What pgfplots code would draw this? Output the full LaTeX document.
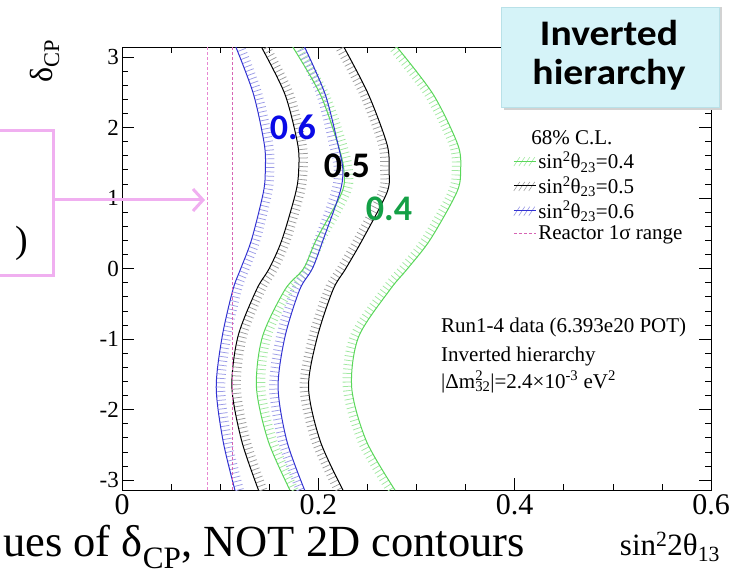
\documentclass[border=0pt]{standalone}
\usepackage{pgfplots}
\pgfplotsset{compat=1.18}
\usepackage{pgfplotstable}
\usepackage{fontspec}
\setmainfont{Liberation Serif}
\newfontfamily\carlito{Carlito}
\usetikzlibrary{arrows.meta}
\definecolor{curvegreen}{RGB}{90,215,90}
\definecolor{hatchgreen}{RGB}{160,232,160}
\definecolor{hatchblack}{RGB}{155,155,155}
\definecolor{curveblue}{RGB}{50,50,210}
\definecolor{hatchblue}{RGB}{155,155,230}
\definecolor{reactor}{RGB}{215,100,180}
\definecolor{reactorlight}{RGB}{232,135,210}
\definecolor{pinkann}{RGB}{240,175,240}
\definecolor{labgreen}{RGB}{20,160,70}
\definecolor{labblue}{RGB}{10,10,230}
\definecolor{boxcyan}{RGB}{213,243,248}

\pgfplotstableread{
d bl kl gl br kr gr
-3.1416 0.115 0.139 0.171 0.186 0.225 0.278
-2.45 0.103 0.122 0.149 0.168 0.202 0.249
-1.69 0.096 0.112 0.137 0.159 0.190 0.234
-0.97 0.102 0.118 0.143 0.166 0.199 0.241
-0.30 0.113 0.137 0.166 0.181 0.215 0.273
0.00 0.121 0.150 0.185 0.194 0.228 0.291
0.41 0.132 0.163 0.198 0.205 0.245 0.314
1.08 0.144 0.177 0.224 0.222 0.270 0.341
1.40 0.146 0.180 0.226 0.225 0.272 0.345
1.76 0.145 0.179 0.220 0.220 0.270 0.342
2.47 0.134 0.166 0.202 0.207 0.251 0.317
3.1416 0.116 0.142 0.174 0.186 0.226 0.280
}\data

\pgfplotsset{
  hatch/.style={line width=8.5pt, dash pattern=on 0.75pt off 3.6pt, smooth, forget plot},
}

\begin{document}
\begin{tikzpicture}
\useasboundingbox (0pt,0pt) rectangle (738pt,571pt);
\begin{axis}[
  at={(122pt,81pt)}, anchor=south west,
  scale only axis, width=589pt, height=443pt,
  xmin=0, xmax=0.6, ymin=-3.1416, ymax=3.1416,
  xtick={0,0.2,0.4,0.6}, minor x tick num=3,
  ytick={-3,-2,-1,0,1,2,3}, minor y tick num=4,
  tick align=inside, major tick length=12pt, minor tick length=6pt,
  tick style={black, line width=0.6pt},
  axis line style={line width=0.8pt},
  /pgf/number format/assume math mode=true,
  x tick label style={font=\fontsize{30}{32}\selectfont, inner sep=4pt},
  y tick label style={font=\fontsize{23}{25}\selectfont, inner sep=3pt},
  legend style={draw=none, fill=none, at={(0.664,0.817)}, anchor=north west,
    font=\fontsize{21}{23}\selectfont, cells={anchor=west}, row sep=2pt, inner sep=0pt},
]
% hatching (inside the bands)
\addplot[hatchgreen, hatch] table[x expr=\thisrow{gl}+0.0048, y=d]{\data};
\addplot[hatchgreen, hatch] table[x expr=\thisrow{gr}-0.0048, y=d]{\data};
\addplot[hatchblack, hatch] table[x expr=\thisrow{kl}+0.0048, y=d]{\data};
\addplot[hatchblack, hatch] table[x expr=\thisrow{kr}-0.0048, y=d]{\data};
\addplot[hatchblue, hatch] table[x expr=\thisrow{bl}+0.0048, y=d]{\data};
\addplot[hatchblue, hatch] table[x expr=\thisrow{br}-0.0048, y=d]{\data};
% curves
\addplot[curvegreen, line width=1pt, smooth, forget plot] table[x=gl,y=d]{\data};
\addplot[curvegreen, line width=1pt, smooth, forget plot] table[x=gr,y=d]{\data};
\addplot[black, line width=1pt, smooth, forget plot] table[x=kl,y=d]{\data};
\addplot[black, line width=1pt, smooth, forget plot] table[x=kr,y=d]{\data};
\addplot[curveblue, line width=1pt, smooth, forget plot] table[x=bl,y=d]{\data};
\addplot[curveblue, line width=1pt, smooth, forget plot] table[x=br,y=d]{\data};
% reactor range
\addplot[reactorlight, line width=0.8pt, dash pattern=on 3pt off 2pt, forget plot] coordinates {(0.087,-3.1416) (0.087,3.1416)};
\addplot[reactor, line width=0.8pt, dash pattern=on 3pt off 2pt, forget plot] coordinates {(0.112,-3.1416) (0.112,3.1416)};

% legend
\addlegendimage{empty legend}
\addlegendentry{\hspace*{-7pt}68\% C.L.}
\addlegendimage{legend image code/.code={
  \draw[hatchgreen, line width=0.6pt] (0pt,-5pt)--(6pt,4pt) (5pt,-5pt)--(11pt,4pt) (10pt,-5pt)--(16pt,4pt) (15pt,-5pt)--(21pt,4pt);
  \draw[curvegreen, line width=1pt] (0pt,0pt)--(22pt,0pt);}}
\addlegendentry{sin\textsuperscript{2}θ\textsubscript{23}=0.4}
\addlegendimage{legend image code/.code={
  \draw[hatchblack, line width=0.6pt] (0pt,-5pt)--(6pt,4pt) (5pt,-5pt)--(11pt,4pt) (10pt,-5pt)--(16pt,4pt) (15pt,-5pt)--(21pt,4pt);
  \draw[black, line width=1pt] (0pt,0pt)--(22pt,0pt);}}
\addlegendentry{sin\textsuperscript{2}θ\textsubscript{23}=0.5}
\addlegendimage{legend image code/.code={
  \draw[hatchblue, line width=0.6pt] (0pt,-5pt)--(6pt,4pt) (5pt,-5pt)--(11pt,4pt) (10pt,-5pt)--(16pt,4pt) (15pt,-5pt)--(21pt,4pt);
  \draw[curveblue, line width=1pt] (0pt,0pt)--(22pt,0pt);}}
\addlegendentry{sin\textsuperscript{2}θ\textsubscript{23}=0.6}
\addlegendimage{legend image code/.code={
  \draw[reactor, line width=0.8pt, dash pattern=on 3pt off 2pt] (0pt,0pt)--(22pt,0pt);}}
\addlegendentry{Reactor 1σ range}

% value labels
\node[text=labblue, font=\carlito\bfseries\fontsize{36}{38}\selectfont] at (axis cs:0.174,2.0) {0.6};
\node[text=black, font=\carlito\bfseries\fontsize{36}{38}\selectfont] at (axis cs:0.229,1.45) {0.5};
\node[text=labgreen, font=\carlito\bfseries\fontsize{36}{38}\selectfont] at (axis cs:0.272,0.84) {0.4};
\end{axis}

% info text
\begin{scope}[font=\fontsize{21}{23}\selectfont]
\node[anchor=west, inner sep=0pt] at (441pt,244pt) {Run1-4 data (6.393e20 POT)};
\node[anchor=west, inner sep=0pt] at (441pt,215pt) {Inverted hierarchy};
\node[anchor=west, inner sep=0pt] at (441pt,189pt) {|Δm\rlap{\textsuperscript{2}}\textsubscript{32}|=2.4×10\textsuperscript{-3} eV\textsuperscript{2}};
\end{scope}

% axis titles
\node[rotate=90, font=\fontsize{32}{34}\selectfont] at (45pt,510pt) {δ\textsubscript{CP}};
\node[font=\fontsize{31}{33}\selectfont] at (670pt,24pt) {sin\textsuperscript{2}2θ\textsubscript{13}};
\node[anchor=base west, inner sep=0pt, font=\fontsize{44.5}{46}\selectfont] at (3pt,15pt) {ues of δ\textsubscript{CP}, NOT 2D contours};

% pink bracket and arrow
\draw[pinkann, line width=3pt] (0pt,440pt) -- (53pt,440pt) -- (53pt,296pt) -- (0pt,296pt);
\draw[pinkann, line width=3pt, -{Straight Barb[length=10pt,width=22pt]}] (53pt,371pt) -- (205pt,371pt);
\node[font=\fontsize{38}{40}\selectfont] at (22pt,328pt) {)};

% Inverted hierarchy box
\fill[gray!35] (504pt,461pt) rectangle (722pt,564pt);
\filldraw[fill=boxcyan, draw={rgb,255:red,185;green,225;blue,232}, line width=0.6pt] (501pt,464pt) rectangle (719pt,564pt);
\node[align=center, xscale=1.1, font=\carlito\bfseries\fontsize{36}{39}\selectfont] at (609pt,516pt) {Inverted\\hierarchy};
\end{tikzpicture}
\end{document}
